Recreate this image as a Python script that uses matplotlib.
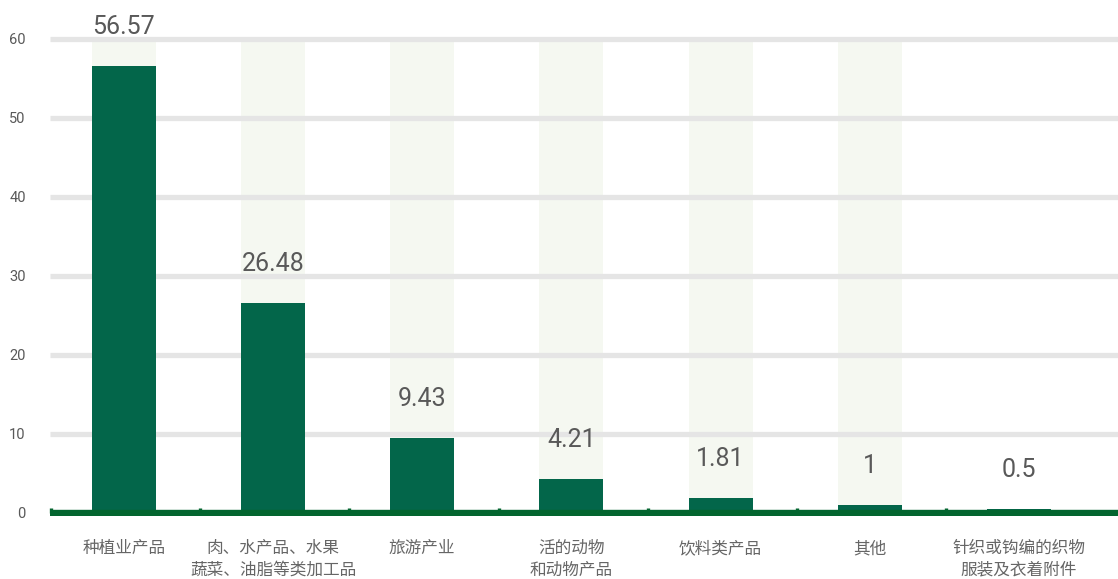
import matplotlib
matplotlib.use("Agg")
import matplotlib.pyplot as plt

categories = [
    "种植业产品",
    "肉、水产品、水果\n蔬菜、油脂等类加工品",
    "旅游产业",
    "活的动物\n和动物产品",
    "饮料类产品",
    "其他",
    "针织或钩编的织物\n服装及衣着附件",
]
values = [56.57, 26.48, 9.43, 4.21, 1.81, 1, 0.5]
value_labels = ["56.57", "26.48", "9.43", "4.21", "1.81", "1", "0.5"]
y_ticks = [0, 10, 20, 30, 40, 50, 60]
shadow_max = 60

BAR_COLOR = "#03664A"
BASE_COLOR = "#03652F"
SHADOW_COLOR = "#F5F8F1"
GRID_COLOR = "#E5E5E5"
TEXT_COLOR = "#595959"
NUM_FONT = ["Roboto", "DejaVu Sans"]
CJK_FONT = ["Noto Sans CJK SC", "DejaVu Sans"]

W, H = 1118, 579
fig = plt.figure(figsize=(W / 100, H / 100), dpi=100)
ax = fig.add_axes([50 / W, 0.108, 1068 / W, 0.9403 - 0.108])
ax.set_xlim(-0.495, 6.664)
ax.set_ylim(-0.5, 60.5)

x = list(range(len(categories)))
bar_w = 0.43

# light backdrop columns up to the axis maximum
ax.bar(x[:-1], [shadow_max] * (len(x) - 1), width=bar_w,
       color=SHADOW_COLOR, zorder=0.5, linewidth=0)

# horizontal grid
for t in y_ticks[1:]:
    ax.axhline(t, color=GRID_COLOR, lw=3.8, zorder=1, clip_on=False,
               solid_capstyle="butt")

# value bars
ax.bar(x, values, width=bar_w, color=BAR_COLOR, zorder=2, linewidth=0)

# baseline
ax.axhline(0, color=BASE_COLOR, lw=4.6, zorder=3, solid_capstyle="butt")

# small markers at category boundaries
for b in [i - 0.5 for i in range(len(categories))]:
    ax.plot([b + 0.012, b + 0.012], [0, 0.6], color=BASE_COLOR, lw=2.4,
            zorder=3, solid_capstyle="butt", clip_on=False)

# value annotations
for xi, v, lab in zip(x, values, value_labels):
    ax.annotate(lab, (xi, v), xytext=(0, 28), textcoords="offset points",
                ha="center", va="center", fontsize=18, color=TEXT_COLOR,
                family=NUM_FONT, zorder=4)

for s in ax.spines.values():
    s.set_visible(False)

ax.set_yticks(y_ticks)
ax.set_yticklabels([str(t) for t in y_ticks], family=NUM_FONT,
                   fontsize=10.5, color=TEXT_COLOR)
ax.tick_params(axis="y", length=0, pad=17.5)

ax.set_xticks(x)
ax.set_xticklabels(categories, family=CJK_FONT, fontsize=12,
                   color="#666666", linespacing=1.35,
                   multialignment="center")
ax.tick_params(axis="x", length=0, pad=17)

fig.savefig("out.png", dpi=100)
